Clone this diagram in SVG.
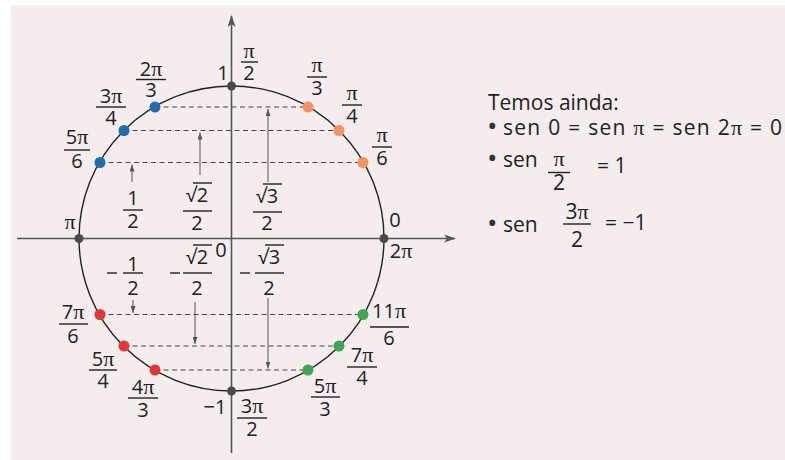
<svg xmlns="http://www.w3.org/2000/svg" width="785" height="460" viewBox="0 0 785 460">
<defs>
<style>
text{font-family:"Open Sans","Noto Sans","DejaVu Sans",sans-serif;font-size:20px;fill:#222;}
.c{text-anchor:middle;}
.pi{font-family:"Liberation Serif","DejaVu Serif",serif;font-size:22px;}
.fl{stroke:#222;stroke-width:1.4;}
.axis{stroke:#555;stroke-width:1.6;fill:none;}
.dash{stroke:#444;stroke-width:1;stroke-dasharray:5 3.5;fill:none;}
.arr{stroke:#555;stroke-width:1;fill:none;marker-end:url(#sm);}
.rt{font-size:21px;}
.bu{font-size:28px;fill:#333;}
.blue{fill:#1f6cb0;}
.orange{fill:#f59262;}
.red{fill:#e2363a;}
.green{fill:#3ea552;}
.grey{fill:#4a4a4a;}
</style>
<marker id="big" viewBox="0 0 12 8" refX="11" refY="4" markerWidth="12" markerHeight="8" markerUnits="userSpaceOnUse" orient="auto">
<path d="M0,0 L12,4 L0,8 L3,4 Z" fill="#555"/>
</marker>
<marker id="sm" viewBox="0 0 7 5" refX="7" refY="2.5" markerWidth="7" markerHeight="5" markerUnits="userSpaceOnUse" orient="auto">
<path d="M0,0 L7,2.5 L0,5 Z" fill="#555"/>
</marker>
</defs>
<rect width="785" height="460" fill="#ffffff"/>
<rect x="11" y="5" width="774" height="455" fill="#f4eced"/>

<g id="axes">
<line class="axis" x1="17" y1="238.5" x2="455" y2="238.5" marker-end="url(#big)"/>
<line class="axis" x1="231.5" y1="453" x2="231.5" y2="16" marker-end="url(#big)"/>
<circle cx="231.5" cy="238.5" r="152.5" fill="none" stroke="#222" stroke-width="1.4"/>
<text x="221" y="257" class="c">0</text>
</g>

<g id="connectors">
<line class="dash" x1="155" y1="107" x2="308" y2="107"/>
<line class="dash" x1="124" y1="130.5" x2="339" y2="130.5"/>
<line class="dash" x1="100" y1="162.5" x2="363" y2="162.5"/>
<line class="dash" x1="100" y1="314.5" x2="363" y2="314.5"/>
<line class="dash" x1="124" y1="346" x2="339" y2="346"/>
<line class="dash" x1="155" y1="370" x2="308" y2="370"/>
<line class="arr" x1="132" y1="182" x2="132" y2="164.5"/>
<line class="arr" x1="200" y1="175" x2="200" y2="132.5"/>
<line class="arr" x1="268" y1="182" x2="268" y2="109"/>
<line class="arr" x1="133" y1="300" x2="133" y2="313"/>
<line class="arr" x1="195" y1="302" x2="195" y2="344"/>
<line class="arr" x1="268" y1="298" x2="268" y2="368.5"/>
</g>

<g id="p-pi2">
<circle class="grey" cx="231.5" cy="86" r="4.5"/>
<text x="223" y="80" class="c">1</text>
<text x="249" y="58" class="c pi">π</text><line class="fl" x1="241" y1="62" x2="258" y2="62"/><text x="249" y="80" class="c">2</text>
</g>
<g id="p-2pi3">
<circle class="blue" cx="155" cy="107" r="5.5"/>
<text x="151" y="76" class="c">2<tspan class="pi">π</tspan></text><line class="fl" x1="136" y1="79.5" x2="166" y2="79.5"/><text x="151" y="97" class="c">3</text>
</g>
<g id="p-3pi4">
<circle class="blue" cx="124" cy="130.5" r="5.5"/>
<text x="111" y="103" class="c">3<tspan class="pi">π</tspan></text><line class="fl" x1="96" y1="107" x2="126" y2="107"/><text x="111" y="125" class="c">4</text>
</g>
<g id="p-5pi6">
<circle class="blue" cx="100" cy="162.5" r="5.5"/>
<text x="77" y="144" class="c">5<tspan class="pi">π</tspan></text><line class="fl" x1="64" y1="150" x2="90" y2="150"/><text x="77" y="168" class="c">6</text>
</g>
<g id="p-pi3">
<circle class="orange" cx="308" cy="107" r="5.5"/>
<text x="317" y="72" class="c pi">π</text><line class="fl" x1="307" y1="77" x2="327" y2="77"/><text x="317" y="95" class="c">3</text>
</g>
<g id="p-pi4">
<circle class="orange" cx="339" cy="130.5" r="5.5"/>
<text x="352" y="100" class="c pi">π</text><line class="fl" x1="342" y1="105" x2="362" y2="105"/><text x="352" y="123" class="c">4</text>
</g>
<g id="p-pi6">
<circle class="orange" cx="363" cy="162.5" r="5.5"/>
<text x="382" y="142" class="c pi">π</text><line class="fl" x1="372" y1="147" x2="392" y2="147"/><text x="382" y="165" class="c">6</text>
</g>
<g id="p-pi">
<circle class="grey" cx="79" cy="238.5" r="4.5"/>
<text x="70" y="229" class="c pi">π</text>
</g>
<g id="p-0">
<circle class="grey" cx="384" cy="238.5" r="4.5"/>
<text x="395" y="227" class="c">0</text>
<text x="401" y="258" class="c">2<tspan class="pi">π</tspan></text>
</g>
<g id="p-7pi6">
<circle class="red" cx="100" cy="314.5" r="5.5"/>
<text x="73" y="319" class="c">7<tspan class="pi">π</tspan></text><line class="fl" x1="59" y1="324" x2="88" y2="324"/><text x="73" y="343" class="c">6</text>
</g>
<g id="p-5pi4">
<circle class="red" cx="124" cy="346" r="5.5"/>
<text x="103" y="366" class="c">5<tspan class="pi">π</tspan></text><line class="fl" x1="89" y1="370" x2="117" y2="370"/><text x="103" y="388" class="c">4</text>
</g>
<g id="p-4pi3">
<circle class="red" cx="155" cy="370" r="5.5"/>
<text x="143" y="394" class="c">4<tspan class="pi">π</tspan></text><line class="fl" x1="128" y1="398" x2="158" y2="398"/><text x="143" y="417" class="c">3</text>
</g>
<g id="p-3pi2">
<circle class="grey" cx="231.5" cy="391" r="4.5"/>
<text x="215" y="414" class="c">−1</text>
<text x="252" y="413" class="c">3<tspan class="pi">π</tspan></text><line class="fl" x1="237" y1="418" x2="267" y2="418"/><text x="252" y="436" class="c">2</text>
</g>
<g id="p-11pi6">
<circle class="green" cx="363" cy="314.5" r="5.5"/>
<text x="389" y="318" class="c">11<tspan class="pi">π</tspan></text><line class="fl" x1="370" y1="327" x2="409" y2="327"/><text x="389" y="345" class="c">6</text>
</g>
<g id="p-7pi4">
<circle class="green" cx="339" cy="346" r="5.5"/>
<text x="362" y="362" class="c">7<tspan class="pi">π</tspan></text><line class="fl" x1="347" y1="367" x2="377" y2="367"/><text x="362" y="385" class="c">4</text>
</g>
<g id="p-5pi3">
<circle class="green" cx="308" cy="370" r="5.5"/>
<text x="325" y="393" class="c">5<tspan class="pi">π</tspan></text><line class="fl" x1="311" y1="397" x2="340" y2="397"/><text x="325" y="416" class="c">3</text>
</g>

<g id="sin-labels">
<text x="133" y="205" class="c">1</text><line class="fl" x1="123" y1="210" x2="143" y2="210"/><text x="133" y="228" class="c">2</text>
<text x="197" y="202" class="c">√2</text><line class="fl" x1="193" y1="183" x2="212" y2="183"/><line class="fl" x1="183" y1="211" x2="212" y2="211"/><text x="197" y="230" class="c">2</text>
<text x="267" y="203" class="c">√3</text><line class="fl" x1="263" y1="184" x2="282" y2="184"/><line class="fl" x1="253" y1="212" x2="282" y2="212"/><text x="267" y="230" class="c">2</text>
<line class="fl" x1="107" y1="273" x2="117" y2="273"/>
<text x="133" y="271" class="c">1</text><line class="fl" x1="123" y1="273" x2="143" y2="273"/><text x="133" y="295" class="c">2</text>
<line class="fl" x1="170" y1="273" x2="180" y2="273"/>
<text x="197" y="264" class="c">√2</text><line class="fl" x1="193" y1="245" x2="212" y2="245"/><line class="fl" x1="183" y1="273" x2="212" y2="273"/><text x="197" y="295" class="c">2</text>
<line class="fl" x1="240" y1="273" x2="250" y2="273"/>
<text x="269" y="264" class="c">√3</text><line class="fl" x1="265" y1="245" x2="284" y2="245"/><line class="fl" x1="255" y1="273" x2="284" y2="273"/><text x="269" y="295" class="c">2</text>
</g>

<g id="notes">
<text x="488" y="110" class="rt">Temos ainda:</text>
<text x="487" y="136" class="bu">•</text>
<text x="503" y="135" class="rt" textLength="279" lengthAdjust="spacing">sen 0 = sen <tspan class="pi">π</tspan> = sen 2<tspan class="pi">π</tspan> = 0</text>
<text x="487" y="168" class="bu">•</text>
<text x="503" y="167" class="rt">sen</text>
<text x="559" y="166" class="c pi">π</text><line class="fl" x1="548" y1="172.5" x2="570" y2="172.5"/><text x="559" y="190" class="c rt">2</text>
<text x="597" y="173" class="rt">= 1</text>
<text x="487" y="233" class="bu">•</text>
<text x="503" y="232" class="rt">sen</text>
<text x="577" y="219" class="c rt">3<tspan class="pi">π</tspan></text><line class="fl" x1="563" y1="224" x2="591" y2="224"/><text x="577" y="247" class="c rt">2</text>
<text x="605" y="230" class="rt">= −1</text>
</g>
</svg>
